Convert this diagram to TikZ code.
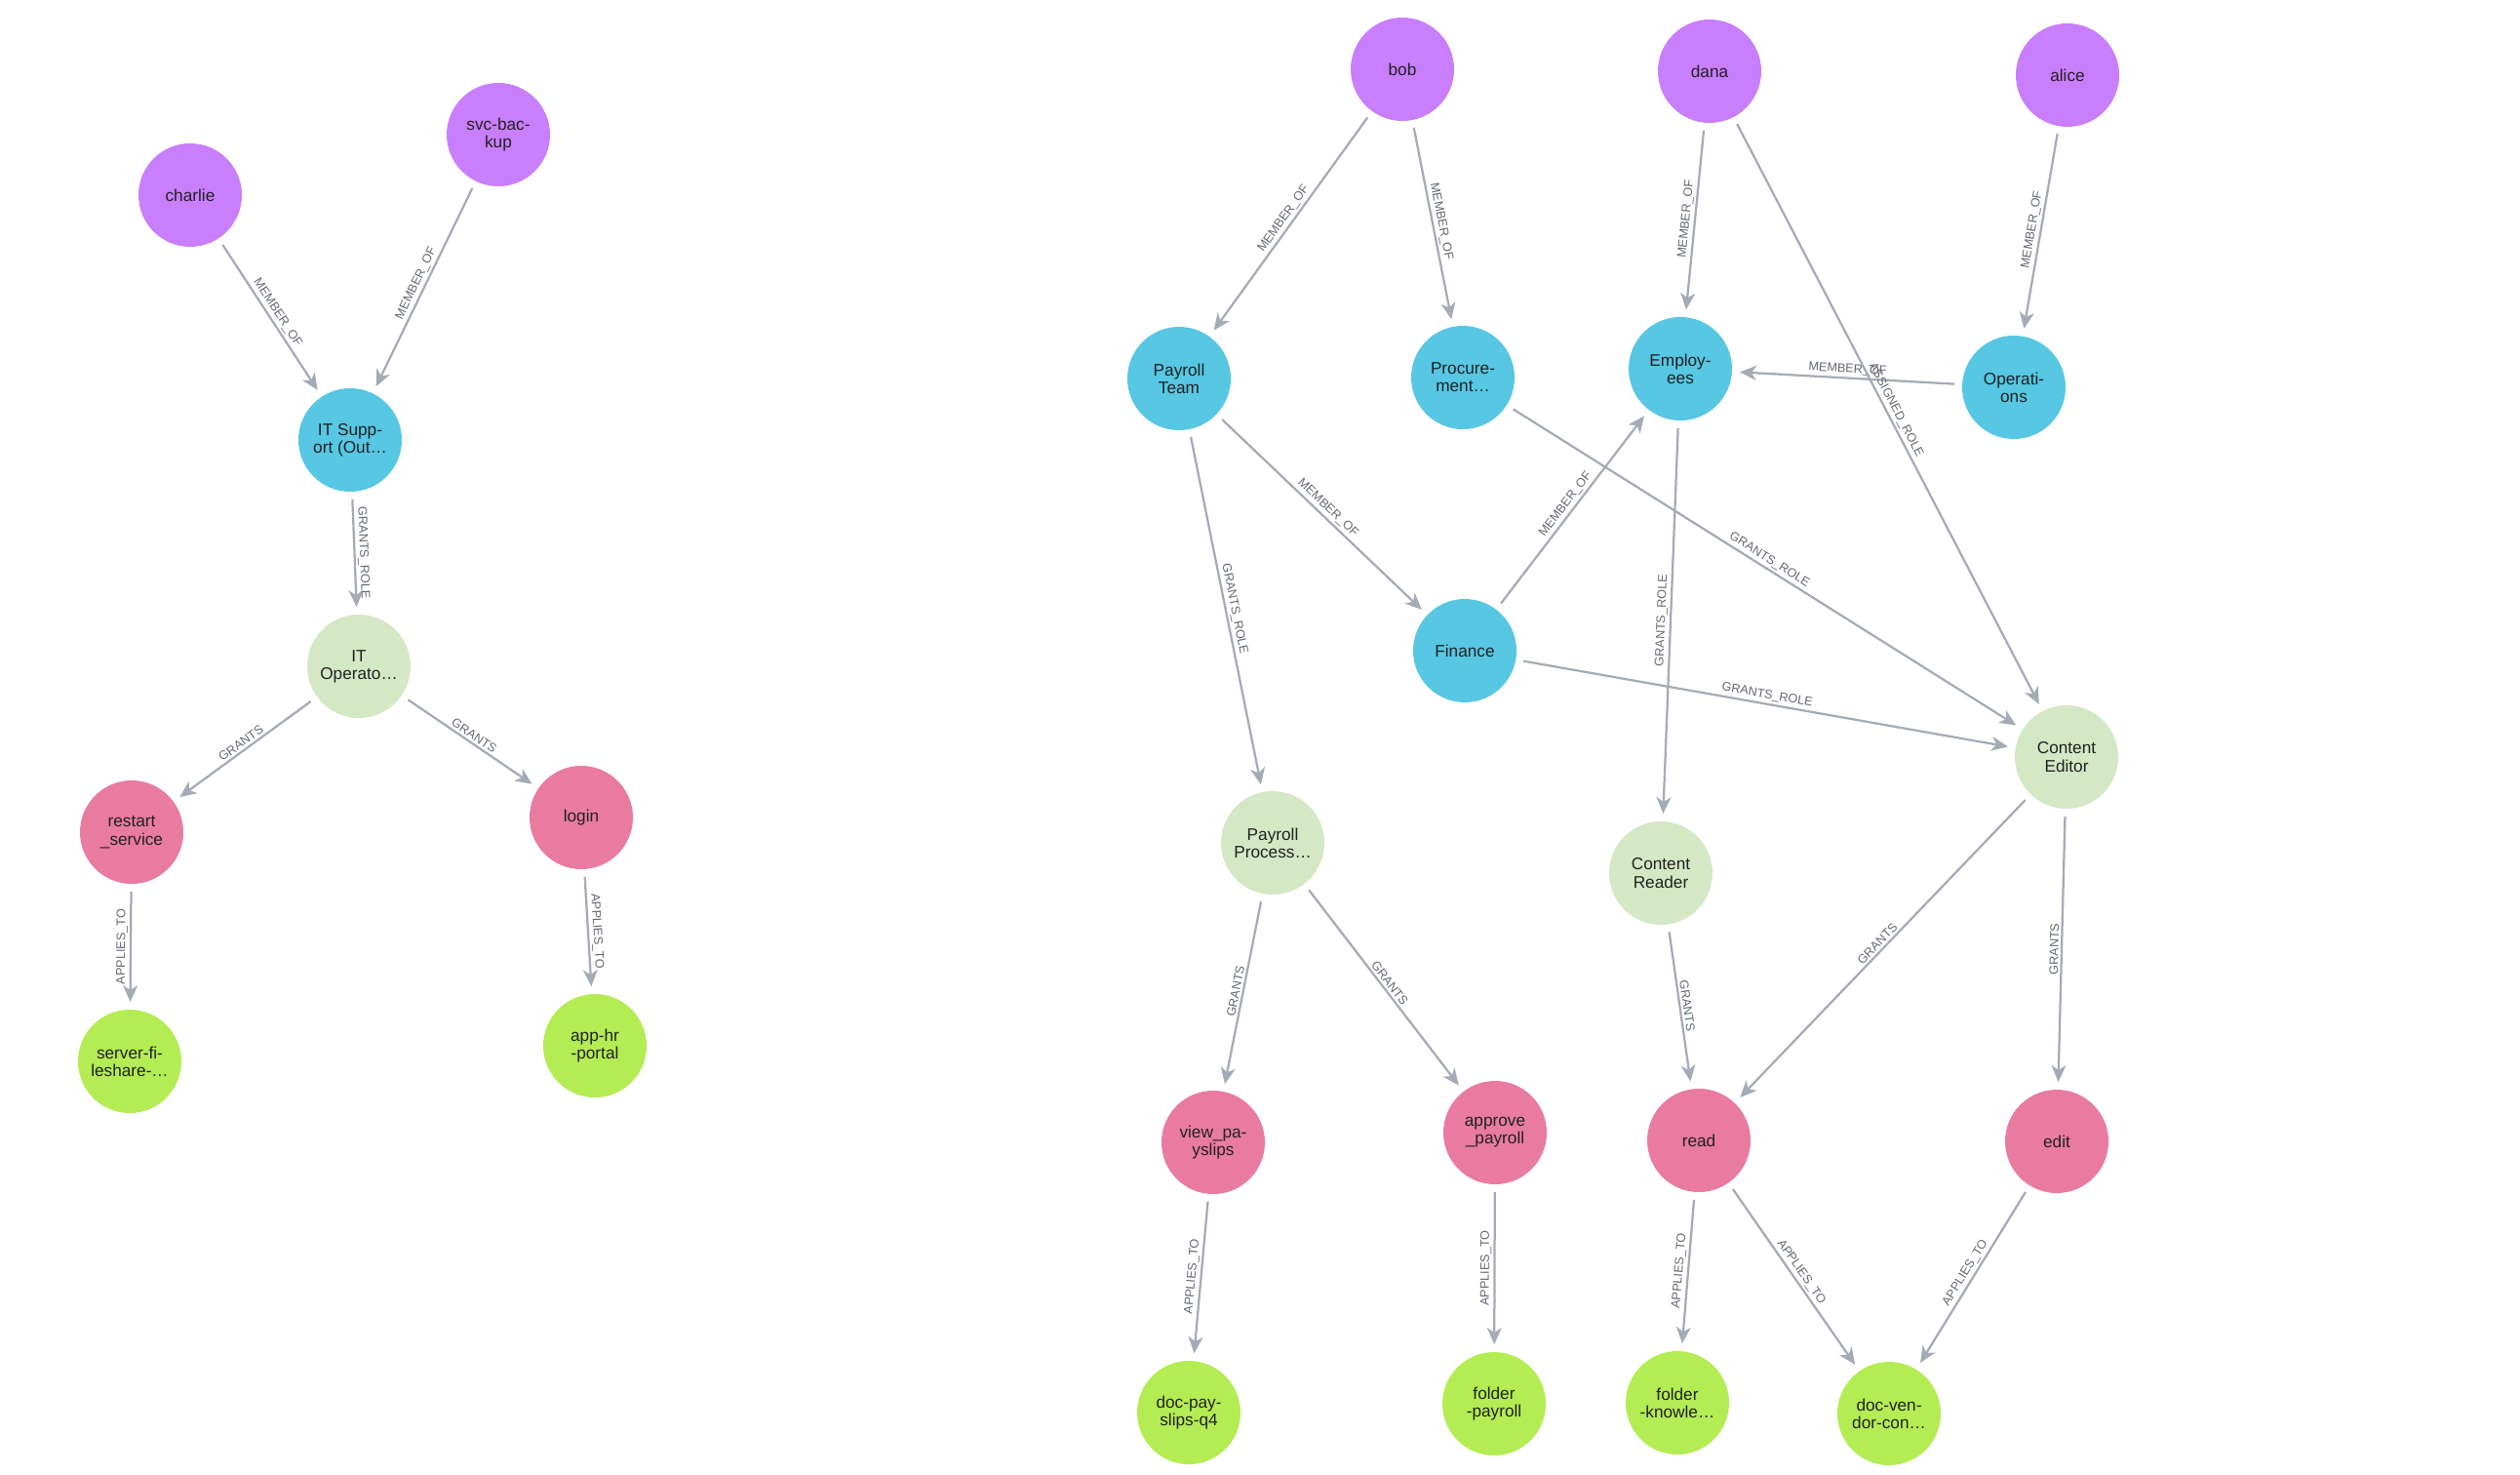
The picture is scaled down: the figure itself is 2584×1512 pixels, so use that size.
\documentclass[tikz,border=0pt]{standalone}
\usepackage{fontspec}
\setmainfont{Liberation Sans}
\usetikzlibrary{arrows.meta}
\definecolor{person}{RGB}{201,126,252}
\definecolor{group}{RGB}{87,199,227}
\definecolor{role}{RGB}{212,232,198}
\definecolor{perm}{RGB}{233,123,161}
\definecolor{resource}{RGB}{180,236,84}
\definecolor{edgegray}{RGB}{165,171,182}
\definecolor{labelgray}{RGB}{100,104,112}

\tikzset{
    ent/.style={circle, minimum size=21.2mm, inner sep=0pt, outer sep=0pt, align=center,
        text=black!87, font=\fontsize{9.8}{10.4}\selectfont},
    user/.style={ent, fill=person},
    team/.style={ent, fill=group},
    roleent/.style={ent, fill=role},
    permission/.style={ent, fill=perm},
    res/.style={ent, fill=resource},
    rel/.style={draw=edgegray, line width=0.45mm, shorten >=1.6mm, shorten <=1.6mm,
        -{Stealth[length=3.4mm, width=3mm, inset=1mm]}},
    lbl/.style={sloped, above, inner sep=1.2pt, text=labelgray, font=\fontsize{7.2}{8}\selectfont}
}

\begin{document}
\begin{tikzpicture}[x=0.2mm, y=-0.2mm]
    \useasboundingbox (0,0) rectangle (2584,1512);

    % left cluster
    \node[user] (charlie) at (195,200) {charlie};
    \node[user] (svcbackup) at (511,138) {svc-bac-\\kup};
    \node[team] (itsupport) at (359,451) {IT Supp-\\ort (Out…};
    \node[roleent] (itoperator) at (368,683) {IT\\Operato…};
    \node[permission] (restart) at (135,853) {restart\\\_service};
    \node[permission] (login) at (596,838) {login};
    \node[res] (fileshare) at (133,1088) {server-fi-\\leshare-…};
    \node[res] (hrportal) at (610,1072) {app-hr\\-portal};

    % right cluster
    \node[user] (bob) at (1438,71) {bob};
    \node[user] (dana) at (1753,73) {dana};
    \node[user] (alice) at (2120,77) {alice};
    \node[team] (payrollteam) at (1209,388) {Payroll\\Team};
    \node[team] (procurement) at (1500,387) {Procure-\\ment…};
    \node[team] (employees) at (1723,378) {Employ-\\ees};
    \node[team] (operations) at (2065,397) {Operati-\\ons};
    \node[team] (finance) at (1502,667) {Finance};
    \node[roleent] (contenteditor) at (2119,776) {Content\\Editor};
    \node[roleent] (payrollproc) at (1305,864) {Payroll\\Process…};
    \node[roleent] (contentreader) at (1703,895) {Content\\Reader};
    \node[permission] (viewpayslips) at (1244,1171) {view\_pa-\\yslips};
    \node[permission] (approve) at (1533,1161) {approve\\\_payroll};
    \node[permission] (read) at (1742,1169) {read};
    \node[permission] (edit) at (2109,1170) {edit};
    \node[res] (docpayslips) at (1219,1448) {doc-pay-\\slips-q4};
    \node[res] (folderpayroll) at (1532,1439) {folder\\-payroll};
    \node[res] (folderknow) at (1720,1438) {folder\\-knowle…};
    \node[res] (docvendor) at (1937,1449) {doc-ven-\\dor-con…};

    % relationships
    \foreach \a/\b in {charlie/itsupport, svcbackup/itsupport, bob/payrollteam, bob/procurement,
        dana/employees, alice/operations, operations/employees, payrollteam/finance, finance/employees}
        \draw[rel] (\a) -- node[lbl] {MEMBER\_OF} (\b);
    \foreach \a/\b in {itsupport/itoperator, payrollteam/payrollproc, procurement/contenteditor,
        employees/contentreader, finance/contenteditor}
        \draw[rel] (\a) -- node[lbl] {GRANTS\_ROLE} (\b);
    \foreach \a/\b in {itoperator/restart, itoperator/login, payrollproc/viewpayslips, payrollproc/approve,
        contentreader/read, contenteditor/read, contenteditor/edit}
        \draw[rel] (\a) -- node[lbl] {GRANTS} (\b);
    \foreach \a/\b in {restart/fileshare, login/hrportal, viewpayslips/docpayslips, approve/folderpayroll,
        read/folderknow, read/docvendor, edit/docvendor}
        \draw[rel] (\a) -- node[lbl] {APPLIES\_TO} (\b);
    \draw[rel] (dana) -- node[lbl] {ASSIGNED\_ROLE} (contenteditor);
\end{tikzpicture}
\end{document}
